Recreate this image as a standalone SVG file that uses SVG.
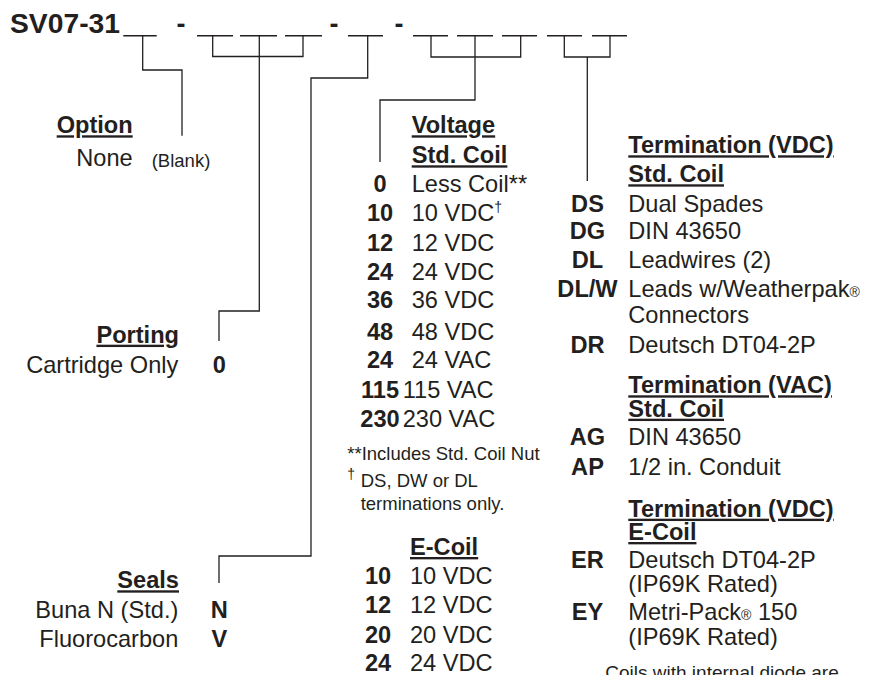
<svg xmlns="http://www.w3.org/2000/svg" width="881" height="675" viewBox="0 0 881 675">
<style>
text{font-family:"Liberation Sans",Arial,Helvetica,sans-serif;fill:#231f20;font-size:23.6px}
.b{font-weight:bold}
.h{font-weight:bold;text-decoration:underline}
.r{text-anchor:end}
.m{text-anchor:middle}
.s{font-size:18.5px}
.sup{font-size:14px}
.blank{stroke:#231f20;stroke-width:1.6;fill:none}
.conn path{stroke:#231f20;stroke-width:1.3;fill:none}
</style>
<rect width="881" height="675" fill="#fff"/>
<g id="title">
<text x="10" y="33.3" class="b" style="font-size:27px" textLength="110" lengthAdjust="spacingAndGlyphs">SV07-31</text>
<text x="181" y="33.3" class="b m" style="font-size:27px">-</text>
<text x="334" y="33.3" class="b m" style="font-size:27px">-</text>
<text x="399" y="33.3" class="b m" style="font-size:27px">-</text>
<path class="blank" d="M123.3 35.7H156.7M197 35.7H233M240 35.7H277M285 35.7H322M348 35.7H383M413 35.7H448M457 35.7H493M502 35.7H537M547 35.7H582M592 35.7H627"/>
</g>
<g id="connectors" class="conn">
<path d="M142.7 36V70H182V135.7"/>
<path d="M212.7 36V56.5H303V36M259.3 36V311H219V341"/>
<path d="M367.7 36V78H311V556H219V583"/>
<path d="M431 36V57H520.7V36M475 36V100H380V162"/>
<path d="M564.3 36V57H610V36M587.3 57V181"/>
</g>
<g id="option">
<text x="132.7" y="133.3" class="h r">Option</text>
<text x="132.7" y="165.7" class="r">None</text>
<text x="151.7" y="166.7" class="s">(Blank)</text>
</g>
<g id="porting">
<text x="179" y="342.7" class="h r">Porting</text>
<text x="178.3" y="372.7" class="r">Cartridge Only</text>
<text x="219.3" y="372.7" class="b m">0</text>
</g>
<g id="seals">
<text x="179" y="588.3" class="h r">Seals</text>
<text x="178.3" y="618.3" class="r">Buna N (Std.)</text>
<text x="219.3" y="618.3" class="b m">N</text>
<text x="178.3" y="647.3" class="r">Fluorocarbon</text>
<text x="219.3" y="647.3" class="b m">V</text>
</g>
<g id="voltage">
<text x="411.7" y="133.3" class="h">Voltage</text>
<text x="411.7" y="163.3" class="h">Std. Coil</text>
<text x="380" y="192.3" class="b m">0</text><text x="411.7" y="192.3">Less Coil**</text>
<text x="380" y="220.7" class="b m">10</text><text x="411.7" y="220.7">10 VDC<tspan class="sup" dy="-9">†</tspan></text>
<text x="380" y="250.7" class="b m">12</text><text x="411.7" y="250.7">12 VDC</text>
<text x="380" y="280" class="b m">24</text><text x="411.7" y="280">24 VDC</text>
<text x="380" y="308.3" class="b m">36</text><text x="411.7" y="308.3">36 VDC</text>
<text x="380" y="339.5" class="b m">48</text><text x="411.7" y="339.5">48 VDC</text>
<text x="380" y="368.3" class="b m">24</text><text x="411.7" y="368.3">24 VAC</text>
<text x="380" y="398.3" class="b m">115</text><text x="402.7" y="398.3">115 VAC</text>
<text x="380" y="427.3" class="b m">230</text><text x="402.7" y="427.3">230 VAC</text>
<text x="347.3" y="460" class="s">**Includes Std. Coil Nut</text>
<text x="347.3" y="479" class="sup">†</text>
<text x="360.7" y="486.7" class="s">DS, DW or DL</text>
<text x="360.7" y="510" class="s">terminations only.</text>
</g>
<g id="ecoil">
<text x="410" y="555" class="h">E-Coil</text>
<text x="378" y="584" class="b m">10</text><text x="410" y="584">10 VDC</text>
<text x="378" y="613.3" class="b m">12</text><text x="410" y="613.3">12 VDC</text>
<text x="378" y="643.3" class="b m">20</text><text x="410" y="643.3">20 VDC</text>
<text x="378" y="670.7" class="b m">24</text><text x="410" y="670.7">24 VDC</text>
</g>
<g id="termination-vdc">
<text x="628.3" y="153.3" class="h">Termination (VDC)</text>
<text x="628.3" y="182.3" class="h">Std. Coil</text>
<text x="587.5" y="211.7" class="b m">DS</text><text x="628.3" y="211.7">Dual Spades</text>
<text x="587.5" y="239.3" class="b m">DG</text><text x="628.3" y="239.3">DIN 43650</text>
<text x="587.5" y="268.3" class="b m">DL</text><text x="628.3" y="268.3">Leadwires (2)</text>
<text x="587.5" y="296.7" class="b m">DL/W</text><text x="628.3" y="296.7">Leads w/Weatherpak<tspan class="sup">®</tspan></text>
<text x="628.3" y="323">Connectors</text>
<text x="587.5" y="352.7" class="b m">DR</text><text x="628.3" y="352.7">Deutsch DT04-2P</text>
</g>
<g id="termination-vac">
<text x="628.3" y="393.3" class="h">Termination (VAC)</text>
<text x="628.3" y="416.7" class="h">Std. Coil</text>
<text x="587.5" y="445" class="b m">AG</text><text x="628.3" y="445">DIN 43650</text>
<text x="587.5" y="475" class="b m">AP</text><text x="628.3" y="475">1/2 in. Conduit</text>
</g>
<g id="termination-ecoil">
<text x="628.3" y="516.7" class="h">Termination (VDC)</text>
<text x="628.3" y="540" class="h">E-Coil</text>
<text x="587.5" y="568.3" class="b m">ER</text><text x="628.3" y="568.3">Deutsch DT04-2P</text>
<text x="628.3" y="591.7">(IP69K Rated)</text>
<text x="587.5" y="620" class="b m">EY</text><text x="628.3" y="620">Metri-Pack<tspan class="sup">®</tspan> 150</text>
<text x="628.3" y="645">(IP69K Rated)</text>
<text x="722" y="679" class="m" style="font-size:19px">Coils with internal diode are</text>
</g>
</svg>
